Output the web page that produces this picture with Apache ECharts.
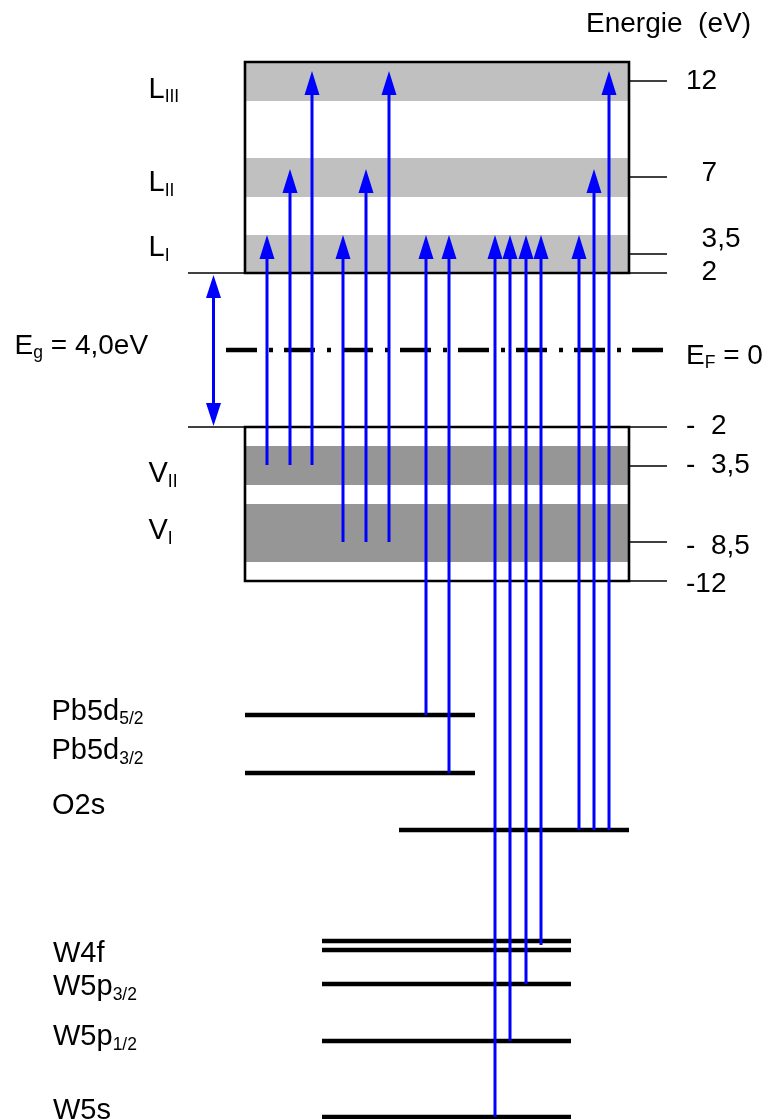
<!DOCTYPE html>
<html><head><meta charset="utf-8">
<script src="https://cdn.jsdelivr.net/npm/echarts@6/dist/echarts.min.js"></script>
<style>html,body{margin:0;padding:0;background:#fff}#main{width:778px;height:1119px}</style>
</head><body><div id="main"></div>
<script>
// ---------- data (schematic diagram units: x across, y downwards) ----------
// Bands of the conduction (L) and valence (V) sides
const bandNames  = ['L_III', 'L_II', 'L_I', 'V_II', 'V_I'];
const bandTop    = [62, 158, 235, 446, 504];
const bandBottom = [101, 197, 273, 485, 562];
const bandIsValence = [0, 0, 0, 1, 1];
const bandSpan = [245, 629];

// Band boxes (conduction / valence)
const boxTop    = [62, 427];
const boxBottom = [273, 581];

// Energy scale (eV) on the right
const tickLabels = ['12', '  7', '  3,5', '  2', '-  2', '-  3,5', '-  8,5', '-12'];
const tickLevel  = [81, 177, 254, 273, 427, 466, 542, 581];

// Band-gap edges on the left
const gapEdges = [273, 427];

// Fermi level
const fermiLevel = 350;
const fermiSpan = [226, 665];

// Core levels
const coreNames = ['Pb5d5/2', 'Pb5d3/2', 'O2s', 'W4f', 'W4f', 'W5p3/2', 'W5p1/2', 'W5s'];
const coreLevel = [715, 773, 830, 941, 950, 984, 1041, 1117];
const coreStart = [245, 245, 399, 322, 322, 322, 322, 322];
const coreEnd   = [475, 475, 629, 571, 571, 571, 571, 571];

// Transitions (arrows): position, start level, end level
const transX    = [267, 290, 312, 343, 366, 389, 426, 449, 495, 510, 526, 541, 579, 594, 609];
const transFrom = [465, 465, 465, 542, 542, 542, 715, 773, 1117, 1041, 984, 945, 830, 830, 830];
const transTo   = [235, 169, 71, 235, 169, 71, 235, 235, 235, 235, 235, 235, 235, 169, 71];

// Band gap arrow
const gapArrowX = 213.5;
const gapArrowEnds = [275, 426];

// Text labels: main part, subscript, tail
const labelMain = ['Energie  (eV)', 'E', 'E', 'L', 'L', 'L', 'V', 'V', 'Pb5d', 'Pb5d', 'O2s', 'W4f', 'W5p', 'W5p', 'W5s'];
const labelSub  = ['', 'g', 'F', 'III', 'II', 'I', 'II', 'I', '5/2', '3/2', '', '', '3/2', '1/2', ''];
const labelTail = ['', ' = 4,0eV', ' = 0', '', '', '', '', '', '', '', '', '', '', '', ''];
const labelX    = [586, 14.6, 686, 148.5, 148.5, 148.5, 148.5, 148.5, 51.5, 51.5, 52, 53, 53, 53, 53];
const labelBase = [33, 354.3, 364.3, 98.3, 192, 257, 483, 540, 720.7, 760, 815, 962.7, 996, 1046, 1120];
const labelLarge = [0, 0, 0, 1, 1, 1, 1, 1, 1, 1, 1, 1, 1, 1, 1];

// ---------- rendering ----------
const FONT = '"Liberation Sans", Arial, Helvetica, sans-serif';
const BLUE = '#0000ff';
const mctx = document.createElement('canvas').getContext('2d');
function textW(t, size) { mctx.font = size + 'px ' + FONT; return mctx.measureText(t).width; }
function textEl(x, baseline, text, size) {
  return { type: 'text', x: x, y: baseline - 0.3 * size,
    style: { text: text, fontSize: size, fontFamily: FONT, fill: '#000',
      align: 'left', verticalAlign: 'middle', textAlign: 'left', textVerticalAlign: 'middle' } };
}
const tickBaseOffset = [9, 5, -6, 8, 8, 8, 13, 12];

const chart = echarts.init(document.getElementById('main'));
const option = {
  animation: false,
  backgroundColor: '#fff',
  grid: { left: 0, right: 0, top: 0, bottom: 0, containLabel: false },
  xAxis: { type: 'value', min: 0, max: 778, show: false },
  yAxis: { type: 'value', min: 0, max: 1119, inverse: true, show: false },
  series: [
    { // bands
      type: 'custom', z: 1, silent: true,
      data: bandNames.map((n, i) => [bandSpan[0], bandSpan[1], bandTop[i], bandBottom[i], bandIsValence[i]]),
      encode: { x: [0, 1], y: [2, 3] },
      renderItem: (params, api) => {
        const p0 = api.coord([api.value(0), api.value(2)]);
        const p1 = api.coord([api.value(1), api.value(3)]);
        return { type: 'rect', shape: { x: p0[0], y: p0[1], width: p1[0] - p0[0], height: p1[1] - p0[1] },
          style: { fill: api.value(4) ? '#969696' : '#c0c0c0' } };
      }
    },
    { // boxes
      type: 'custom', z: 3, silent: true,
      data: boxTop.map((t, i) => [bandSpan[0], bandSpan[1], t, boxBottom[i]]),
      encode: { x: [0, 1], y: [2, 3] },
      renderItem: (params, api) => {
        const p0 = api.coord([api.value(0), api.value(2)]);
        const p1 = api.coord([api.value(1), api.value(3)]);
        return { type: 'rect', shape: { x: p0[0], y: p0[1], width: p1[0] - p0[0], height: p1[1] - p0[1] },
          style: { fill: 'none', stroke: '#000', lineWidth: 2.6 } };
      }
    },
    { // thin reference lines (scale ticks + gap edges)
      type: 'custom', z: 2, silent: true,
      data: tickLevel.map(y => [bandSpan[1], 667, y]).concat(gapEdges.map(y => [188, bandSpan[0], y])),
      encode: { x: [0, 1], y: 2 },
      renderItem: (params, api) => {
        const p0 = api.coord([api.value(0), api.value(2)]);
        const p1 = api.coord([api.value(1), api.value(2)]);
        return { type: 'line', shape: { x1: p0[0], y1: p0[1], x2: p1[0], y2: p1[1] },
          style: { stroke: '#000', lineWidth: 1.5 } };
      }
    },
    { // core levels
      type: 'custom', z: 2, silent: true,
      data: coreNames.map((n, i) => [coreStart[i], coreEnd[i], coreLevel[i]]),
      encode: { x: [0, 1], y: 2 },
      renderItem: (params, api) => {
        const p0 = api.coord([api.value(0), api.value(2)]);
        const p1 = api.coord([api.value(1), api.value(2)]);
        return { type: 'line', shape: { x1: p0[0], y1: p0[1], x2: p1[0], y2: p1[1] },
          style: { stroke: '#000', lineWidth: 4.5 } };
      }
    },
    { // Fermi level
      type: 'line', z: 2, silent: true, symbol: 'none',
      data: [[fermiSpan[0], fermiLevel], [fermiSpan[1], fermiLevel]],
      lineStyle: { color: '#000', width: 4.5, type: [31, 12, 4, 11], cap: 'butt' }
    },
    { // transitions
      type: 'custom', z: 5, silent: true,
      data: transX.map((x, i) => [x, transFrom[i], transTo[i]]),
      encode: { x: 0, y: [1, 2] },
      renderItem: (params, api) => {
        const s = api.coord([api.value(0), api.value(1)]);
        const t = api.coord([api.value(0), api.value(2)]);
        return { type: 'group', children: [
          { type: 'line', shape: { x1: s[0], y1: s[1], x2: t[0], y2: t[1] + 20 },
            style: { stroke: BLUE, lineWidth: 3 } },
          { type: 'polygon', shape: { points: [[t[0], t[1]], [t[0] - 7.5, t[1] + 24], [t[0] + 7.5, t[1] + 24]] },
            style: { fill: BLUE } }
        ] };
      }
    },
    { // band gap double arrow
      type: 'custom', z: 5, silent: true,
      data: [[gapArrowX, gapArrowEnds[0], gapArrowEnds[1]]],
      encode: { x: 0, y: [1, 2] },
      renderItem: (params, api) => {
        const a = api.coord([api.value(0), api.value(1)]);
        const b = api.coord([api.value(0), api.value(2)]);
        return { type: 'group', children: [
          { type: 'line', shape: { x1: a[0], y1: a[1] + 20, x2: b[0], y2: b[1] - 20 },
            style: { stroke: BLUE, lineWidth: 3 } },
          { type: 'polygon', shape: { points: [[a[0], a[1]], [a[0] - 7.5, a[1] + 23], [a[0] + 7.5, a[1] + 23]] },
            style: { fill: BLUE } },
          { type: 'polygon', shape: { points: [[b[0], b[1]], [b[0] - 7.5, b[1] - 23], [b[0] + 7.5, b[1] - 23]] },
            style: { fill: BLUE } }
        ] };
      }
    },
    { // scale tick labels
      type: 'custom', z: 6, silent: true,
      data: tickLabels.map((l, i) => [686, tickLevel[i] + tickBaseOffset[i], i]),
      encode: { x: 0, y: 1 },
      renderItem: (params, api) => {
        const p = api.coord([api.value(0), api.value(1)]);
        return textEl(p[0], p[1], tickLabels[api.value(2)], 28);
      }
    },
    { // labels with subscripts
      type: 'custom', z: 6, silent: true,
      data: labelMain.map((l, i) => [labelX[i], labelBase[i], i]),
      encode: { x: 0, y: 1 },
      renderItem: (params, api) => {
        const i = api.value(2);
        const p = api.coord([api.value(0), api.value(1)]);
        const M = labelLarge[i] ? 29 : 28;
        const S = 17.5;
        const children = [textEl(p[0], p[1], labelMain[i], M)];
        let x = p[0] + textW(labelMain[i], M);
        if (labelSub[i]) {
          children.push(textEl(x, p[1] + 4, labelSub[i], S));
          x += textW(labelSub[i], S);
        }
        if (labelTail[i]) children.push(textEl(x, p[1], labelTail[i], M));
        return { type: 'group', children: children };
      }
    }
  ]
};
chart.setOption(option);
</script>
</body></html>
